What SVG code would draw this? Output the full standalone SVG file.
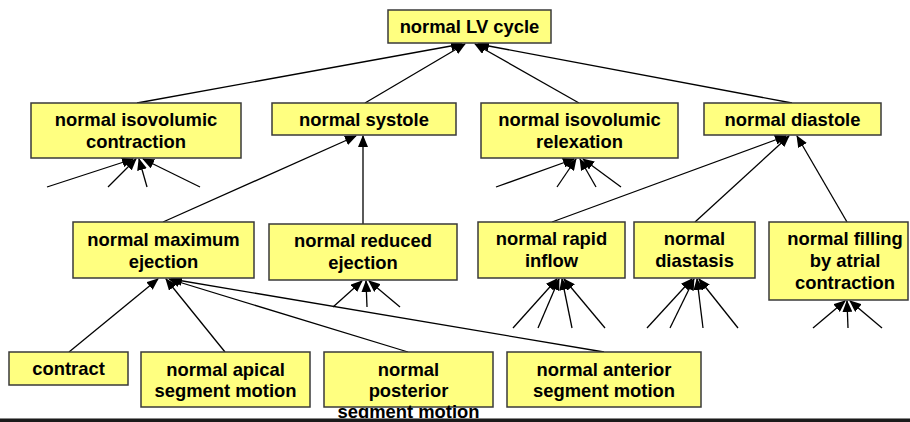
<svg xmlns="http://www.w3.org/2000/svg" width="910" height="422" viewBox="0 0 910 422">
<style>
.box{fill:#ffff80;stroke:#3a3a3a;stroke-width:1.5}
.t{font-family:"Liberation Sans",Arial,sans-serif;font-weight:bold;font-size:18.4px;fill:#000;text-anchor:middle}
.c{stroke:#000;stroke-width:1.3;fill:none;marker-end:url(#ah)}
</style>
<defs>
<marker id="ah" markerUnits="userSpaceOnUse" markerWidth="12" markerHeight="10" refX="11" refY="5" orient="auto">
<path d="M0,0 L12,5 L0,10 Z" fill="#000"/>
</marker>
</defs>
<rect width="910" height="422" fill="#fff"/>
<g id="connectors">
<line class="c" x1="137" y1="103" x2="462" y2="44"/>
<line class="c" x1="365" y1="103" x2="465" y2="44"/>
<line class="c" x1="579" y1="103" x2="475" y2="44"/>
<line class="c" x1="792" y1="103" x2="478" y2="44"/>
<line class="c" x1="163" y1="222" x2="356" y2="136"/>
<line class="c" x1="363" y1="224" x2="363" y2="136"/>
<line class="c" x1="552" y1="222" x2="786" y2="136"/>
<line class="c" x1="695" y1="222" x2="789" y2="136"/>
<line class="c" x1="847" y1="222" x2="797" y2="136"/>
<line class="c" x1="69" y1="352" x2="158" y2="279"/>
<line class="c" x1="225" y1="352" x2="166" y2="279"/>
<line class="c" x1="408" y1="352" x2="169" y2="279"/>
<line class="c" x1="604" y1="352" x2="171" y2="279"/>
<line class="c" x1="47" y1="187" x2="133" y2="159"/>
<line class="c" x1="108" y1="187" x2="136" y2="159"/>
<line class="c" x1="147" y1="187" x2="139" y2="159"/>
<line class="c" x1="200" y1="187" x2="143" y2="159"/>
<line class="c" x1="496" y1="187" x2="574" y2="159"/>
<line class="c" x1="557" y1="187" x2="576" y2="159"/>
<line class="c" x1="596" y1="187" x2="580" y2="159"/>
<line class="c" x1="621" y1="187" x2="583" y2="159"/>
<line class="c" x1="333" y1="307" x2="362" y2="281"/>
<line class="c" x1="367" y1="307" x2="366" y2="281"/>
<line class="c" x1="400" y1="307" x2="369" y2="281"/>
<line class="c" x1="513" y1="328" x2="557" y2="279"/>
<line class="c" x1="538" y1="328" x2="559" y2="279"/>
<line class="c" x1="572" y1="328" x2="562" y2="279"/>
<line class="c" x1="605" y1="328" x2="564" y2="279"/>
<line class="c" x1="647" y1="328" x2="692" y2="279"/>
<line class="c" x1="670" y1="328" x2="694" y2="279"/>
<line class="c" x1="703" y1="328" x2="697" y2="279"/>
<line class="c" x1="738" y1="328" x2="699" y2="279"/>
<line class="c" x1="813" y1="328" x2="845" y2="301"/>
<line class="c" x1="848" y1="328" x2="847" y2="301"/>
<line class="c" x1="882" y1="328" x2="850" y2="301"/>
</g>
<g id="lvcycle"><rect class="box" x="388" y="10" width="163" height="33"/><text class="t" x="469.5" y="33">normal LV cycle</text></g>
<g id="isocontraction"><rect class="box" x="31" y="103" width="210" height="55"/><text class="t" x="136" y="126">normal isovolumic</text><text class="t" x="136" y="147.7">contraction</text></g>
<g id="systole"><rect class="box" x="272" y="103" width="184" height="32"/><text class="t" x="364" y="126">normal systole</text></g>
<g id="isorelaxation"><rect class="box" x="481" y="103" width="197" height="55"/><text class="t" x="579.5" y="126">normal isovolumic</text><text class="t" x="579.5" y="147.7">relexation</text></g>
<g id="diastole"><rect class="box" x="704" y="103" width="177" height="32"/><text class="t" x="792.5" y="126">normal diastole</text></g>
<g id="maxejection"><rect class="box" x="73" y="222" width="181" height="56"/><text class="t" x="163.5" y="245.7">normal maximum</text><text class="t" x="163.5" y="267.7">ejection</text></g>
<g id="redejection"><rect class="box" x="269" y="224" width="188" height="56"/><text class="t" x="363" y="247.3">normal reduced</text><text class="t" x="363" y="269.3">ejection</text></g>
<g id="rapidinflow"><rect class="box" x="478" y="222" width="147" height="56"/><text class="t" x="551.5" y="245">normal rapid</text><text class="t" x="551.5" y="267">inflow</text></g>
<g id="diastasis"><rect class="box" x="634" y="222" width="121" height="56"/><text class="t" x="694.5" y="245">normal</text><text class="t" x="694.5" y="267">diastasis</text></g>
<g id="atrialfilling"><rect class="box" x="769" y="222" width="139" height="78"/><text class="t" x="845" y="245">normal filling</text><text class="t" x="845" y="267">by atrial</text><text class="t" x="845" y="289">contraction</text></g>
<g id="contract"><rect class="box" x="9" y="352" width="119" height="33"/><text class="t" x="68.5" y="375">contract</text></g>
<g id="apical"><rect class="box" x="141" y="352" width="169" height="55"/><text class="t" x="225.5" y="375.7">normal apical</text><text class="t" x="225.5" y="396.7">segment motion</text></g>
<g id="posterior"><rect class="box" x="324" y="352" width="169" height="55"/><text class="t" x="408.5" y="375.7">normal</text><text class="t" x="408.5" y="396.7">posterior</text><text class="t" x="408.5" y="418">segment motion</text></g>
<g id="anterior"><rect class="box" x="507" y="352" width="194" height="55"/><text class="t" x="604" y="375.7">normal anterior</text><text class="t" x="604" y="396.7">segment motion</text></g>
<rect x="0" y="418" width="910" height="1.2" fill="#888"/>
<rect x="0" y="419" width="910" height="3" fill="#1a1a1a"/>
</svg>
